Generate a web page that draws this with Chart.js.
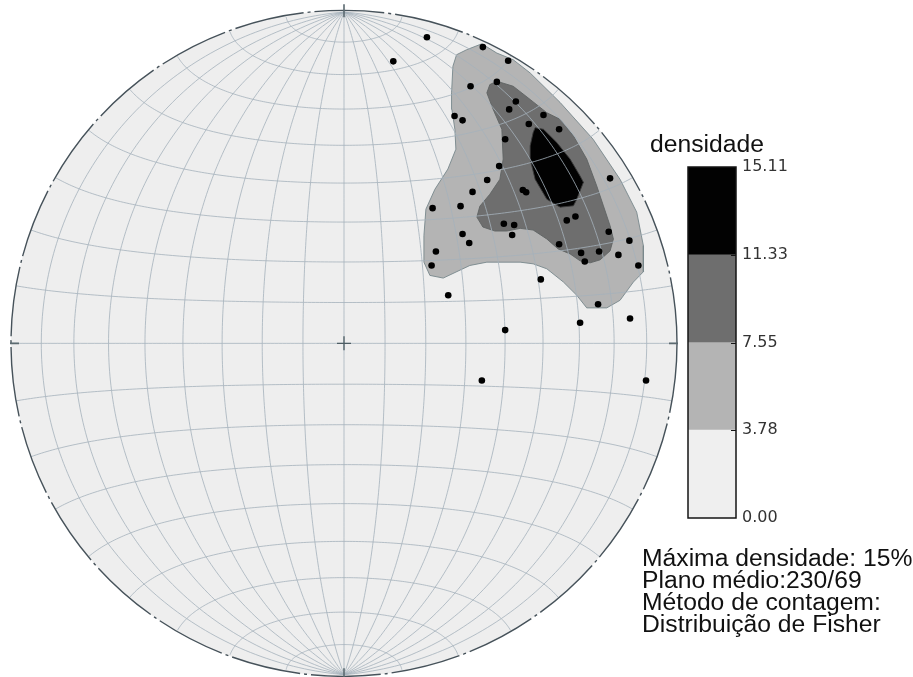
<!DOCTYPE html>
<html>
<head>
<meta charset="utf-8">
<script src="https://cdn.jsdelivr.net/npm/chart.js@4.4.1/dist/chart.umd.min.js"></script>
<style>
  html, body { margin: 0; padding: 0; background: #ffffff; }
  #wrap { position: relative; width: 913px; height: 677px; overflow: hidden; }
  #net { position: absolute; left: 0; top: 0; }
  #bar { position: absolute; left: 640px; top: 120px; }
</style>
</head>
<body>
<div id="wrap">
  <canvas id="net" width="913" height="677"></canvas>
  <canvas id="bar" width="180" height="420"></canvas>
</div>
<script>
// Poles plotted on the equal-area net (x = east, y = north, primitive circle radius = 100)
const poleX = [24.9, 14.8, 41.7, 49.3, 38.0, 45.9, 51.6, 49.6, 33.2, 35.6, 59.9, 55.5, 64.6, 48.4, 46.6, 79.9,
               43.0, 53.7, 54.7, 38.6, 26.6, 35.0, 66.9, 69.5, 48.0, 51.1, 50.5, 35.6, 37.6, 79.5, 64.6, 85.7,
               27.6, 71.2, 76.6, 72.3, 82.4, 26.3, 88.4, 59.1, 31.3, 76.3, 70.9, 85.9, 48.4, 41.4, 90.7];
const poleY = [92.4, 85.1, 89.4, 85.3, 77.6, 78.9, 73.0, 70.6, 68.6, 67.3, 68.9, 66.2, 64.6, 61.6, 53.5, 49.8,
               49.3, 46.3, 45.6, 45.7, 40.8, 41.4, 37.1, 38.3, 36.1, 35.7, 32.7, 33.0, 30.3, 33.7, 29.9, 31.0,
               27.7, 27.3, 27.7, 24.7, 26.7, 23.5, 23.5, 19.3, 14.5, 11.8, 6.2, 7.5, 4.0, -11.2, -11.2];

// Fisher density contours (net coordinates)
const contour378 = [[41.4, 90.4], [45.9, 87.6], [50.8, 85.6], [55.9, 81.6], [64.9, 72.7], [74.8, 61.6],
  [82.9, 49.5], [87.9, 39.6], [89.9, 29.5], [89.9, 21.6], [86.9, 18.5], [82.9, 13.0], [78.9, 10.7],
  [72.9, 10.7], [69.9, 14.5], [65.9, 18.5], [60.9, 22.5], [56.8, 24.0], [52.9, 24.5], [42.9, 24.5],
  [37.8, 23.5], [29.8, 19.7], [25.8, 20.5], [24.0, 24.5], [24.0, 32.5], [24.6, 40.5], [27.3, 46.5],
  [31.2, 52.6], [33.6, 58.6], [33.3, 64.6], [32.4, 70.6], [32.3, 75.6], [32.7, 83.6], [33.8, 87.1],
  [36.8, 88.6]];
const contour755 = [[45.9, 79.1], [50.8, 77.6], [55.9, 73.6], [60.9, 69.6], [64.9, 67.6], [68.9, 62.6],
  [72.9, 55.6], [75.9, 47.5], [77.9, 41.5], [79.9, 35.5], [80.9, 31.5], [79.9, 27.9], [76.9, 25.2],
  [73.9, 24.3], [70.9, 24.9], [67.9, 27.0], [64.3, 28.5], [60.9, 31.5], [56.8, 34.2], [52.9, 34.7],
  [48.9, 33.9], [45.3, 33.9], [41.7, 35.1], [39.9, 38.1], [40.8, 41.4], [43.8, 45.0], [46.8, 49.5],
  [47.8, 55.6], [47.4, 64.6], [44.8, 70.6], [42.9, 75.6], [43.8, 78.1]];
const contour1133 = [[57.4, 65.1], [59.9, 64.6], [63.9, 60.6], [67.9, 55.6], [70.9, 50.5], [71.9, 48.6],
  [69.9, 43.5], [68.9, 41.5], [64.9, 41.1], [60.9, 43.5], [57.4, 49.5], [55.9, 55.6], [55.9, 59.6],
  [56.8, 63.6]];

// Colour bar
const densityLevels = [0.00, 3.78, 7.55, 11.33, 15.11];
const levelColors = ['#efefef', '#b4b4b4', '#6e6e6e', '#020202'];
const colorbarTitle = 'densidade';
const infoLines = ['Máxima densidade: 15%', 'Plano médio:230/69', 'Método de contagem:', 'Distribuição de Fisher'];

const toPoints = (xs, ys) => xs.map((x, i) => ({ x: x, y: ys[i] }));
const closedRing = pairs => pairs.concat([pairs[0]]).map(p => ({ x: p[0], y: p[1] }));

// Lambert azimuthal equal-area projection of a lon/lat graticule node (radius 100)
function project(lonDeg, latDeg) {
  const l = lonDeg * Math.PI / 180, p = latDeg * Math.PI / 180;
  const x = Math.cos(p) * Math.sin(l), y = Math.sin(p), z = Math.cos(p) * Math.cos(l);
  const k = 100 / Math.sqrt(1 + z);
  return [x * k, y * k];
}

function strokeCurve(ctx, xs, ys, nodes) {
  ctx.beginPath();
  nodes.forEach((n, i) => {
    const px = xs.getPixelForValue(n[0]), py = ys.getPixelForValue(n[1]);
    if (i === 0) ctx.moveTo(px, py); else ctx.lineTo(px, py);
  });
  ctx.stroke();
}

const stereonetPlugin = {
  id: 'stereonet',
  beforeDatasetsDraw(chart) {
    const { ctx, scales: { x, y } } = chart;
    const cx = x.getPixelForValue(0), cy = y.getPixelForValue(0);
    const r = x.getPixelForValue(100) - cx;
    ctx.save();
    ctx.fillStyle = '#eeeeee';
    ctx.beginPath();
    ctx.arc(cx, cy, r, 0, Math.PI * 2);
    ctx.fill();
    ctx.restore();
  },
  beforeDatasetDraw(chart, args) {
    if (args.index !== 0) return;
    // graticule at 10 degree spacing, drawn over the contours and under the poles
    const { ctx, scales: { x, y } } = chart;
    ctx.save();
    ctx.strokeStyle = 'rgba(165,178,188,0.8)';
    ctx.lineWidth = 1;
    for (let lon = -80; lon <= 80; lon += 10) {
      const nodes = [];
      for (let lat = -90; lat <= 90; lat += 1) nodes.push(project(lon, lat));
      strokeCurve(ctx, x, y, nodes);
    }
    for (let lat = -80; lat <= 80; lat += 10) {
      const nodes = [];
      for (let lon = -90; lon <= 90; lon += 1) nodes.push(project(lon, lat));
      strokeCurve(ctx, x, y, nodes);
    }
    ctx.restore();
  },
  afterDatasetsDraw(chart) {
    const { ctx, scales: { x, y } } = chart;
    const cx = x.getPixelForValue(0), cy = y.getPixelForValue(0);
    const r = x.getPixelForValue(100) - cx;
    ctx.save();
    // primitive circle
    ctx.strokeStyle = '#46525a';
    ctx.lineWidth = 1.4;
    ctx.setLineDash([70, 4, 3, 4]);
    ctx.beginPath();
    ctx.arc(cx, cy, r, 0, Math.PI * 2);
    ctx.stroke();
    ctx.setLineDash([]);
    // cardinal ticks
    ctx.strokeStyle = '#5b6a70';
    ctx.lineWidth = 1.6;
    ctx.beginPath();
    ctx.moveTo(cx, cy - r - 6); ctx.lineTo(cx, cy - r + 7);
    ctx.moveTo(cx - r - 1, cy); ctx.lineTo(cx - r + 8, cy);
    ctx.moveTo(cx + r + 1, cy); ctx.lineTo(cx + r - 8, cy);
    ctx.moveTo(cx, cy + r + 1); ctx.lineTo(cx, cy + r - 8);
    ctx.stroke();
    // centre cross
    ctx.strokeStyle = '#4d5d64';
    ctx.lineWidth = 1.3;
    ctx.beginPath();
    ctx.moveTo(cx - 7, cy); ctx.lineTo(cx + 7, cy);
    ctx.moveTo(cx, cy - 7); ctx.lineTo(cx, cy + 7);
    ctx.stroke();
    ctx.restore();
  },
  afterDraw(chart) {
    const ctx = chart.ctx;
    ctx.save();
    ctx.fillStyle = '#111111';
    ctx.textBaseline = 'alphabetic';
    ctx.font = '24.7px "Liberation Sans", Arial, sans-serif';
    ctx.fillText(colorbarTitle, 650, 152);
    infoLines.forEach((t, i) => ctx.fillText(t, 642, 566 + i * 22));
    ctx.restore();
  }
};

new Chart(document.getElementById('net'), {
  type: 'scatter',
  data: {
    datasets: [
      { data: toPoints(poleX, poleY), pointRadius: 3.3, pointHoverRadius: 3.3,
        backgroundColor: '#000000', borderWidth: 0 },
      { data: closedRing(contour1133), showLine: true, fill: 'shape', pointRadius: 0,
        backgroundColor: levelColors[3], borderColor: 'rgba(60,60,60,0.9)', borderWidth: 1, tension: 0 },
      { data: closedRing(contour755), showLine: true, fill: 'shape', pointRadius: 0,
        backgroundColor: levelColors[2], borderColor: 'rgba(95,100,100,0.9)', borderWidth: 1, tension: 0 },
      { data: closedRing(contour378), showLine: true, fill: 'shape', pointRadius: 0,
        backgroundColor: levelColors[1], borderColor: 'rgba(120,135,140,0.9)', borderWidth: 1, tension: 0 }
    ]
  },
  options: {
    responsive: false,
    animation: false,
    devicePixelRatio: 1,
    events: [],
    layout: { padding: { left: 11, right: 236, top: 12, bottom: 0 } },
    plugins: { legend: { display: false }, tooltip: { enabled: false } },
    scales: {
      x: { type: 'linear', min: -100, max: 100, display: false },
      y: { type: 'linear', min: -99.7, max: 100, display: false }
    }
  },
  plugins: [stereonetPlugin]
});

const barOutlinePlugin = {
  id: 'barOutline',
  afterDatasetsDraw(chart) {
    const { ctx, chartArea: a, scales: { y } } = chart;
    ctx.save();
    ctx.strokeStyle = '#151515';
    ctx.lineWidth = 1.5;
    ctx.strokeRect(a.left, a.top, a.right - a.left, a.bottom - a.top);
    ctx.lineWidth = 1;
    ctx.beginPath();
    densityLevels.slice(1, -1).forEach(v => {
      const py = Math.round(y.getPixelForValue(v)) + 0.5;
      ctx.moveTo(a.right - 5, py); ctx.lineTo(a.right, py);
    });
    ctx.stroke();
    ctx.restore();
  }
};

new Chart(document.getElementById('bar'), {
  type: 'bar',
  data: {
    labels: [''],
    datasets: levelColors.map((c, i) => ({
      data: [[densityLevels[i], densityLevels[i + 1]]],
      backgroundColor: c,
      borderWidth: 0,
      barPercentage: 1,
      categoryPercentage: 1,
      grouped: false
    }))
  },
  options: {
    responsive: false,
    animation: false,
    devicePixelRatio: 1,
    events: [],
    layout: { padding: { left: 48, top: 47, bottom: 22, right: 0 } },
    plugins: { legend: { display: false }, tooltip: { enabled: false } },
    scales: {
      x: { display: false },
      y: {
        position: 'right',
        min: densityLevels[0],
        max: densityLevels[densityLevels.length - 1],
        afterFit: s => { s.width = 84; },
        afterBuildTicks: s => { s.ticks = densityLevels.map(v => ({ value: v })); },
        grid: { display: false, drawTicks: false },
        border: { display: false },
        ticks: {
          padding: 6,
          color: '#333333',
          font: { family: 'DejaVu Sans', size: 16 },
          callback: v => Number(v).toFixed(2)
        }
      }
    }
  },
  plugins: [barOutlinePlugin]
});
</script>
</body>
</html>
